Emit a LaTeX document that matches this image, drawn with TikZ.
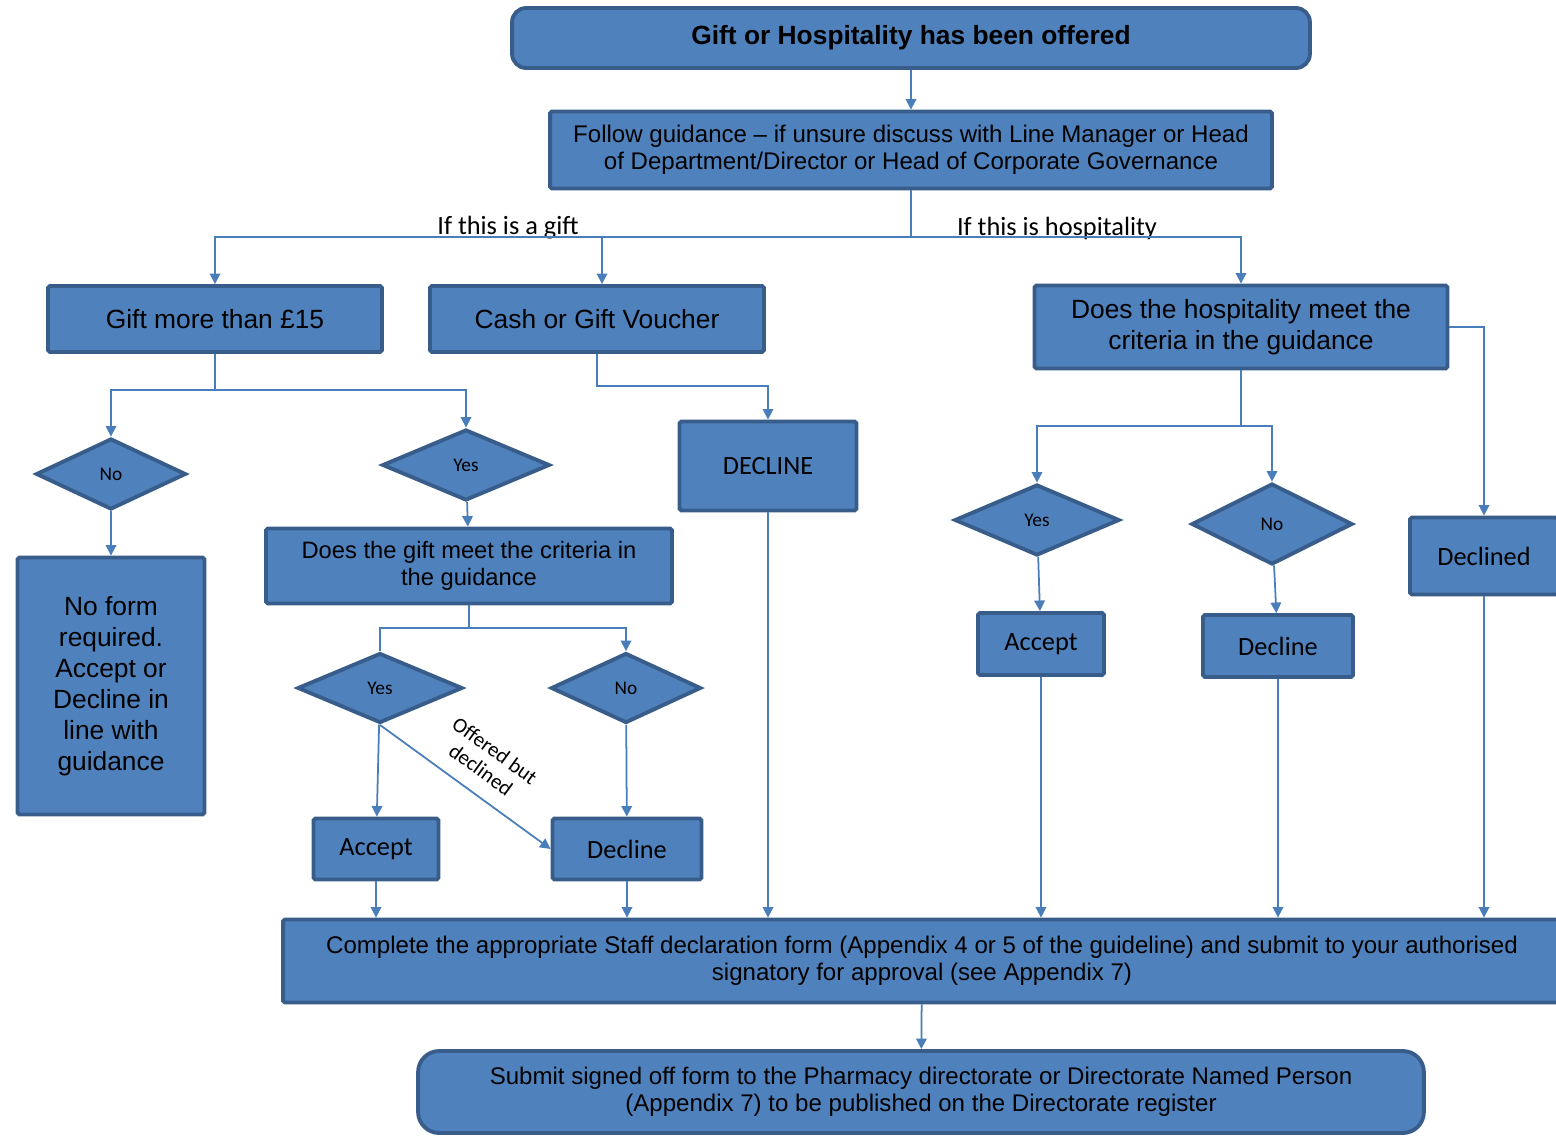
\documentclass[tikz,border=0pt]{standalone}
\usepackage{fontspec}
\setmainfont{Liberation Sans}
\newfontfamily\calfont{Carlito}
\usetikzlibrary{shapes.geometric,arrows.meta}
\definecolor{boxblue}{HTML}{4F81BD}
\definecolor{edgeblue}{HTML}{385D8A}
\definecolor{lineblue}{HTML}{4A7EBB}

\begin{document}
\begin{tikzpicture}[x=0.02cm,y=-0.02cm,
  box/.style={draw=edgeblue,fill=boxblue,line width=2.2pt,rounded corners=1pt,align=center,inner sep=2pt,font=\fontsize{15}{17.6}\selectfont},
  smallbox/.style={box,font=\fontsize{13.7}{15.4}\selectfont},
  calbox/.style={box,font=\calfont\fontsize{15}{17.6}\selectfont},
  dec/.style={diamond,draw=edgeblue,fill=boxblue,line width=2.2pt,inner sep=0pt,font=\calfont\fontsize{11}{13}\selectfont},
  conn/.style={draw=lineblue,line width=1pt},
  arr/.style={conn,-{Triangle[width=6pt,length=6pt]}},
  lbl/.style={font=\calfont\fontsize{15}{17}\selectfont,inner sep=0pt}]
\useasboundingbox (0,0) rectangle (1556,1137);

% top of the chart
\node[box,rounded corners=8pt,minimum width=15.96cm,minimum height=1.2cm] (offered) at (911,38) {\bfseries Gift or Hospitality has been offered};
\node[smallbox,minimum width=14.44cm,minimum height=1.54cm] (follow) at (911,150) {Follow guidance -- if unsure discuss with Line Manager or Head\\of Department/Director or Head of Corporate Governance};
\coordinate (split) at (911,237);
\node[lbl] (giftlbl) at (508,228) {If this is a gift};
\node[lbl] (hosplbl) at (1057,228) {If this is hospitality};

% gift side
\node[box,minimum width=6.68cm,minimum height=1.32cm] (gift15) at (215,319) {Gift more than £15};
\node[box,minimum width=6.68cm,minimum height=1.32cm] (cash) at (597,319) {Cash or Gift Voucher};
\node[calbox,minimum width=3.54cm,minimum height=1.78cm] (declinecash) at (768,466) {DECLINE};
\coordinate (giftsplit) at (215,390);
\node[dec,minimum width=3.0cm,minimum height=1.42cm] (nogift) at (111,474) {No};
\node[dec,minimum width=3.35cm,minimum height=1.42cm] (yesgift) at (466,465) {Yes};
\node[box,minimum width=3.74cm,minimum height=5.14cm] (noform) at (111,686) {No form\\required.\\Accept or\\Decline in\\line with\\guidance};
\node[box,font=\fontsize{13.5}{15.3}\selectfont,minimum width=8.12cm,minimum height=1.5cm] (giftmeet) at (469,566) {Does the gift meet the criteria in\\the guidance};
\coordinate (meetsplit) at (469,628);
\node[dec,minimum width=3.3cm,minimum height=1.4cm] (yesmeet) at (380,688) {Yes};
\node[dec,minimum width=3.0cm,minimum height=1.4cm] (nomeet) at (626,688) {No};
\node[calbox,minimum width=2.5cm,minimum height=1.22cm] (acceptgift) at (376,849) {Accept};
\node[calbox,minimum width=2.98cm,minimum height=1.22cm] (declinegift) at (627,849) {Decline};
\node[font=\calfont\fontsize{12}{13.5}\selectfont,align=center,rotate=-36,inner sep=0pt] (offlbl) at (488,760) {Offered but\\declined};

% hospitality side
\node[box,minimum width=8.26cm,minimum height=1.66cm] (hosp) at (1241,327) {Does the hospitality meet the\\criteria in the guidance};
\coordinate (hospsplit) at (1241,426);
\node[dec,minimum width=3.3cm,minimum height=1.42cm] (yeshosp) at (1037,520) {Yes};
\node[dec,minimum width=3.22cm,minimum height=1.62cm] (nohosp) at (1272,524) {No};
\node[calbox,minimum width=2.52cm,minimum height=1.24cm] (accepthosp) at (1041,644) {Accept};
\node[calbox,minimum width=3.0cm,minimum height=1.24cm] (declinehosp) at (1278,646) {Decline};
\node[calbox,minimum width=2.96cm,minimum height=1.54cm] (declined) at (1484,556) {Declined};

% bottom of the chart
\node[smallbox,minimum width=25.56cm,minimum height=1.66cm] (complete) at (922,961) {Complete the appropriate Staff declaration form (Appendix 4 or 5 of the guideline) and submit to your authorised\\signatory for approval (see Appendix 7)};
\node[smallbox,rounded corners=12pt,minimum width=20.12cm,minimum height=1.64cm] (submit) at (921,1092) {Submit signed off form to the Pharmacy directorate or Directorate Named Person\\(Appendix 7) to be published on the Directorate register};

% connectors
\draw[arr] (offered) -- (follow);
\draw[conn] (follow) -- (split);
\draw[arr] (split) -| (gift15);
\draw[arr] (split) -| (hosp);
\draw[arr] ([xshift=0.1cm]cash.north |- split) -- ([xshift=0.1cm]cash.north);
\draw[conn] (gift15) -- (giftsplit);
\draw[arr] (giftsplit) -| (nogift);
\draw[arr] (giftsplit) -| (yesgift);
\draw[arr] (cash.south) -- ++(0,32) -| (declinecash);
\draw[arr] (nogift) -- (noform);
\draw[arr] (yesgift) -- (giftmeet);
\draw[conn] (giftmeet) -- (meetsplit);
\draw[conn] (meetsplit) -| (yesmeet);
\draw[arr] (meetsplit) -| (nomeet);
\draw[arr] (yesmeet) -- (acceptgift);
\draw[arr] (yesmeet.south) -- (declinegift.west);
\draw[arr] (nomeet) -- (declinegift);
\draw[arr] (acceptgift.south) -- (acceptgift.south |- complete.north);
\draw[arr] (declinegift.south) -- (declinegift.south |- complete.north);
\draw[arr] (declinecash.south) -- (declinecash.south |- complete.north);
\draw[conn] (hosp) -- (hospsplit);
\draw[arr] (hospsplit) -| (yeshosp);
\draw[arr] (hospsplit) -| (nohosp);
\draw[arr] (hosp.east) -| (declined);
\draw[arr] (yeshosp) -- (accepthosp);
\draw[arr] (nohosp) -- (declinehosp);
\draw[arr] (accepthosp.south) -- (accepthosp.south |- complete.north);
\draw[arr] (declinehosp.south) -- (declinehosp.south |- complete.north);
\draw[arr] (declined.south) -- (declined.south |- complete.north);
\draw[arr] (complete) -- (submit);
\end{tikzpicture}
\end{document}
